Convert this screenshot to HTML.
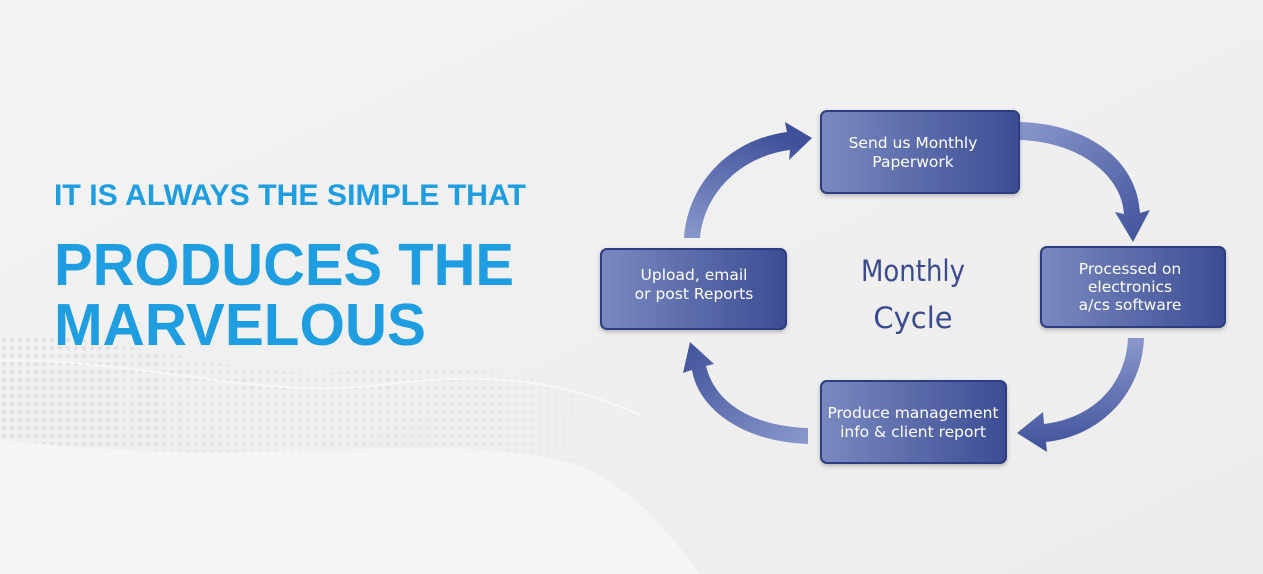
<!DOCTYPE html>
<html><head><meta charset="utf-8"><style>
html,body{margin:0;padding:0;}
body{width:1263px;height:574px;overflow:hidden;background:#f1f1f1;}
svg{display:block}
</style></head><body>
<svg width="1263" height="574" viewBox="0 0 1263 574" xmlns="http://www.w3.org/2000/svg">
<defs>
<linearGradient id="bg" x1="0" y1="0" x2="1" y2="1">
<stop offset="0" stop-color="#f3f3f3"/><stop offset="1" stop-color="#ececec"/>
</linearGradient>
<linearGradient id="box" x1="0" y1="0" x2="1" y2="0">
<stop offset="0" stop-color="#7a89c0"/><stop offset="1" stop-color="#3c4d94"/>
</linearGradient>
<linearGradient id="fade" x1="0" y1="0" x2="1" y2="0">
<stop offset="0" stop-color="#fff" stop-opacity="1"/><stop offset="0.7" stop-color="#fff" stop-opacity="0.6"/><stop offset="1" stop-color="#fff" stop-opacity="0"/>
</linearGradient>
<mask id="m"><rect width="620" height="574" fill="url(#fade)"/></mask>
<pattern id="dots" width="8" height="8" patternUnits="userSpaceOnUse">
<circle cx="4" cy="4" r="2.2" fill="#e0e0e0"/>
</pattern>
<linearGradient id="a1" x1="0" y1="0" x2="1" y2="1"><stop offset="0" stop-color="#8a98cc"/><stop offset="1" stop-color="#3f519a"/></linearGradient>
<linearGradient id="a2" x1="0" y1="0" x2="0" y2="1"><stop offset="0" stop-color="#8a98cc"/><stop offset="1" stop-color="#3f519a"/></linearGradient>
<linearGradient id="a3" x1="1" y1="1" x2="0" y2="0"><stop offset="0" stop-color="#8a98cc"/><stop offset="1" stop-color="#3f519a"/></linearGradient>
<linearGradient id="a4" x1="0" y1="1" x2="0.5" y2="0"><stop offset="0" stop-color="#8a98cc"/><stop offset="1" stop-color="#3f519a"/></linearGradient>
<filter id="sh" x="-10%" y="-10%" width="120%" height="130%"><feDropShadow dx="0" dy="2" stdDeviation="2" flood-color="#000" flood-opacity="0.25"/></filter>
</defs>
<rect width="1263" height="574" fill="url(#bg)"/>
<g mask="url(#m)">
<path d="M0 335 C120 330 230 380 340 372 C440 365 520 368 600 395 L600 470 C480 440 320 470 0 440 Z" fill="url(#dots)"/>
</g>
<path d="M0 440 C250 470 420 430 560 460 C620 475 660 520 700 574 L0 574Z" fill="#f6f6f6" opacity="0.8"/>
<path d="M0 360 C150 360 260 400 380 385 C480 372 560 378 640 415" stroke="#fafafa" stroke-width="2" fill="none" opacity="0.8"/>

<g font-family="Liberation Sans, sans-serif" font-weight="bold" fill="#1e9de0">
<text x="54" y="205" font-size="30" textLength="472" lengthAdjust="spacingAndGlyphs">IT IS ALWAYS THE SIMPLE THAT</text>
<text x="54" y="285" font-size="59" textLength="460" lengthAdjust="spacingAndGlyphs">PRODUCES THE</text>
<text x="54" y="345" font-size="59" textLength="372" lengthAdjust="spacingAndGlyphs">MARVELOUS</text>
</g>

<path d="M1020 140 C1080 142 1122 176 1124 214 L1115 212 L1133 242 L1150 210 L1140 213 C1137 160 1088 124 1020 122 Z" fill="url(#a1)"/>
<path d="M1128 338 L1144 338 C1142 392 1102 436 1046 442 L1047 452 L1017 433 L1043 412 L1044 424 C1094 418 1126 384 1128 338 Z" fill="url(#a2)"/>
<path d="M808 428 L808 444 C742 442 698 408 692 370 L683 373 L690 342 L714 364 L706 366 C714 400 748 426 808 428 Z" fill="url(#a3)"/>
<path d="M684 238 L700 238 C704 192 742 156 790 150 L789 160 L812 138 L785 122 L787 132 C728 140 688 184 684 238 Z" fill="url(#a4)"/>

<g filter="url(#sh)" stroke="#2e3d80" stroke-width="2">
<rect x="821" y="111" width="198" height="82" rx="6" fill="url(#box)"/>
<rect x="601" y="249" width="185" height="80" rx="6" fill="url(#box)"/>
<rect x="1041" y="247" width="184" height="80" rx="6" fill="url(#box)"/>
<rect x="821" y="381" width="185" height="82" rx="6" fill="url(#box)"/>
</g>
<g font-family="DejaVu Sans, sans-serif" fill="#fff" font-size="15.5" text-anchor="middle">
<text x="913" y="148">Send us Monthly</text>
<text x="913" y="167">Paperwork</text>
<text x="694" y="280">Upload, email</text>
<text x="694" y="299">or post Reports</text>
<text x="1130" y="274">Processed on</text>
<text x="1130" y="292">electronics</text>
<text x="1130" y="310">a/cs software</text>
<text x="913" y="418">Produce management</text>
<text x="913" y="437">info &amp; client report</text>
</g>
<g font-family="DejaVu Sans, sans-serif" fill="#3a4a8c" font-size="29" text-anchor="middle">
<text x="913" y="281" textLength="104" lengthAdjust="spacingAndGlyphs">Monthly</text>
<text x="913" y="328">Cycle</text>
</g>
</svg>
</body></html>
